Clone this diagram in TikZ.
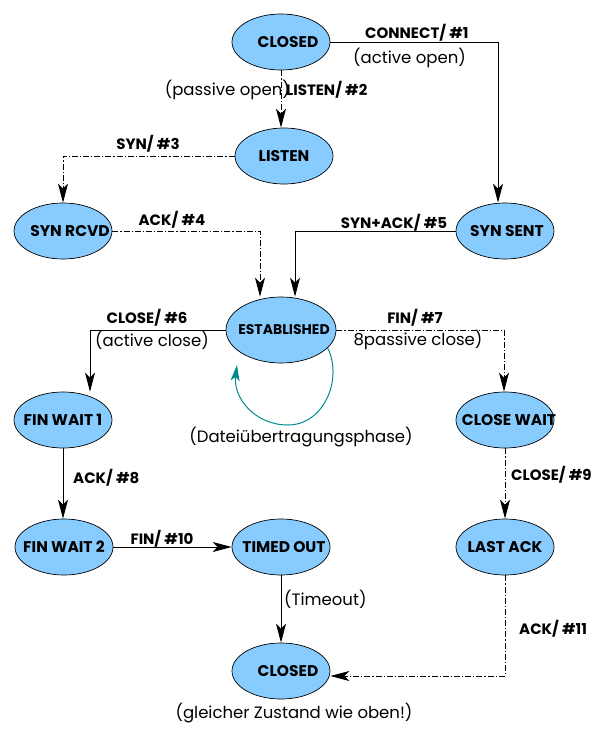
\documentclass[tikz,border=0pt]{standalone}
\usepackage{fontspec}
\setmainfont{Poppins}
\usetikzlibrary{shapes.geometric,arrows.meta}
\definecolor{statefill}{RGB}{136,204,255}
\definecolor{loopcol}{RGB}{0,140,140}
\newcommand\sttext[2]{\makebox[0pt]{\hspace*{#1}#2}}
\begin{document}
\begin{tikzpicture}[x=1pt,y=-1pt,
  state/.style={ellipse, draw=black, line width=0.7pt, fill=statefill,
    minimum width=98pt, minimum height=56pt, inner sep=0pt,
    font=\fontsize{15.5}{17}\selectfont\bfseries},
  solidarrow/.style={draw, line width=0.9pt, -{Stealth[length=19pt,width=10pt,inset=5pt]}},
  dasharrow/.style={solidarrow, dash pattern=on 6pt off 2pt on 1.2pt off 2pt},
  lbl/.style={font=\fontsize{15}{17}\selectfont\bfseries, inner sep=0pt},
  note/.style={font=\fontsize{16.5}{18}\selectfont, inner sep=0pt}]
\useasboundingbox (0,0) rectangle (599,736);

% states
\node[state] (closed) at (281,42) {\sttext{14pt}{CLOSED}};
\node[state] (listen) at (284,156) {\sttext{0pt}{LISTEN}};
\node[state] (synrcvd) at (63,231) {\sttext{14pt}{SYN RCVD}};
\node[state] (synsent) at (505,231) {\sttext{4pt}{SYN SENT}};
\node[state, minimum width=110pt, minimum height=66pt, font=\fontsize{14}{16}\selectfont\bfseries] (est) at (281,330) {\sttext{6pt}{ESTABLISHED}};
\node[state] (finwait1) at (63,420) {\sttext{0pt}{FIN WAIT 1}};
\node[state] (closewait) at (505,420) {\sttext{8pt}{CLOSE WAIT}};
\node[state] (finwait2) at (64,547) {\sttext{0pt}{FIN WAIT 2}};
\node[state] (timedout) at (281,547) {\sttext{6pt}{TIMED OUT}};
\node[state] (lastack) at (505,547) {\sttext{0pt}{LAST ACK}};
\node[state] (closed2) at (281,671) {\sttext{14pt}{CLOSED}};

% transitions
\draw[solidarrow] (closed.east) -| ([xshift=-7pt]synsent.north);
\draw[dasharrow] (closed.south) -- (closed.south |- listen.north);
\draw[dasharrow] (listen.west) -| (synrcvd.north);
\draw[dasharrow] (synrcvd.east) -| ([xshift=-21pt]est.north);
\draw[solidarrow] (synsent.west) -| ([xshift=14pt]est.north);
\draw[solidarrow] (est.west) -| ([xshift=27pt]finwait1.north);
\draw[dasharrow] (est.east) -| ([xshift=-1pt]closewait.north);
\draw[solidarrow] (finwait1.south) -- (finwait1.south |- finwait2.north);
\draw[solidarrow] (finwait2.east) -- (timedout.west);
\draw[solidarrow] (timedout.south) -- (closed2.north);
\draw[dasharrow] (closewait.south) -- (lastack.north);
\draw[dasharrow] (lastack.south) |- ([yshift=-5pt]closed2.east);

% self loop
\coordinate (loopend) at (237,365);
\draw[loopcol, line width=1pt, -{Stealth[length=16pt,width=9pt,inset=4pt]}]
  (est.-21) .. controls (343,379) and (324,425) .. (288,425)
  .. controls (255,425) and (233,398) .. (loopend);

% labels
\node[lbl, anchor=west] (l1) at (365,33) {CONNECT/ \#1};
\node[note, anchor=west] (n1) at (353,58) {(active open)};
\node[note, anchor=east] (n2) at (290,90) {(passive open)};
\node[lbl, anchor=west] (l2) at (286,90) {LISTEN/ \#2};
\node[lbl] (l3) at (148,144) {SYN/ \#3};
\node[lbl] (l4) at (172,220) {ACK/ \#4};
\node[lbl] (l5) at (394,223) {SYN+ACK/ \#5};
\node[lbl] (l6) at (147,318) {CLOSE/ \#6};
\node[note] (n6) at (152,340) {(active close)};
\node[lbl] (l7) at (415,318) {FIN/ \#7};
\node[note] (n7) at (418,340) {8passive close)};
\node[note] (n8) at (301,437) {(Dateiübertragungsphase)};
\node[lbl, anchor=west] (l8) at (73,478) {ACK/ \#8};
\node[lbl, anchor=west] (l9) at (511,475) {CLOSE/ \#9};
\node[lbl] (l10) at (162,539) {FIN/ \#10};
\node[note, anchor=west] (n11) at (284,599) {(Timeout)};
\node[lbl, anchor=west] (l11) at (519,629) {ACK/ \#11};
\node[note] (n12) at (294,713) {(gleicher Zustand wie oben!)};
\end{tikzpicture}
\end{document}
